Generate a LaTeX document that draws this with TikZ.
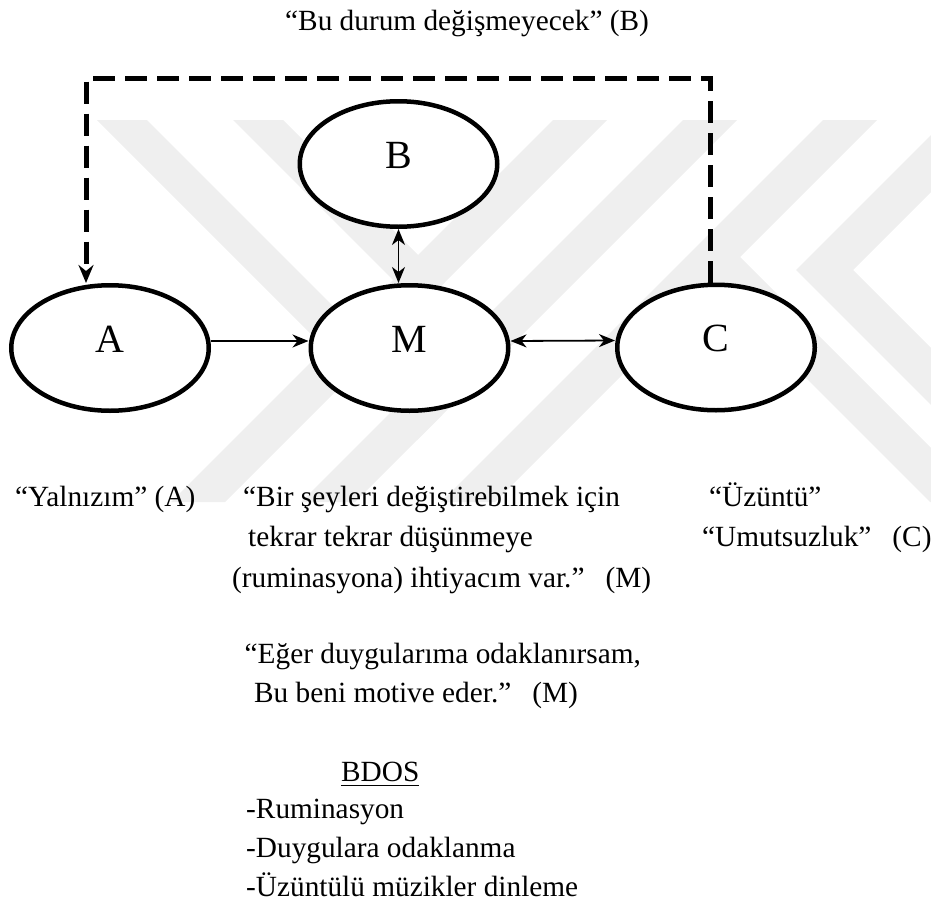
\documentclass[tikz,border=0pt]{standalone}
\usepackage{fontspec}
\setmainfont{Liberation Serif}
\usetikzlibrary{arrows.meta,shapes.geometric}
\definecolor{wmark}{RGB}{239,239,239}
\begin{document}
\begin{tikzpicture}[x=1pt,y=-1pt,
  state/.style={ellipse, draw, line width=4.5pt, fill=white,
    minimum width=197.5pt, minimum height=125.5pt, inner sep=0pt,
    font=\fontsize{40}{40}\selectfont},
  conn/.style={line width=1.8pt, -{Stealth[length=16pt,width=13pt,inset=5pt]}},
  dconn/.style={line width=1.8pt, {Stealth[length=16pt,width=13pt,inset=5pt]}-{Stealth[length=16pt,width=13pt,inset=5pt]}},
  feedback/.style={line width=5pt, dash pattern=on 22pt off 10pt,
    -{Stealth[length=18pt,width=15pt,inset=6pt]}},
  txt/.style={anchor=base west, inner sep=0pt, font=\fontsize{29.3}{35}\selectfont},
  band/.style={fill=wmark, draw=none}]
\useasboundingbox (0,0) rectangle (931,905);

% faint background emblem
\fill[band] (553,120) -- (607,120) -- (225,502) -- (171,502) -- cycle;
\fill[band] (683,120) -- (737,120) -- (355,502) -- (301,502) -- cycle;
\fill[band] (823,120) -- (877,120) -- (495,502) -- (441,502) -- cycle;
\fill[band] (97,120) -- (147,120) -- (442,415) -- (417,440) -- cycle;
\fill[band] (233,120) -- (283,120) -- (445,282) -- (420,307) -- cycle;
\fill[band] (931,135) -- (796,270) -- (931,405) -- (931,348) -- (853,270) -- (931,192) -- cycle;
\fill[band] (685.5,257.5) -- (740,257) -- (931,448) -- (931,502) -- (930,502) -- cycle;

% states
\node[state] (A) at (110,348)   {\raisebox{-4pt}[0pt][0pt]{A}};
\node[state] (M) at (409.5,348) {\raisebox{-4pt}[0pt][0pt]{M}};
\node[state] (C) at (716,347.5) {\raisebox{-4pt}[0pt][0pt]{C}};
\node[state] (B) at (398.5,164) {\raisebox{-4pt}[0pt][0pt]{B}};

% connectors
\draw[conn]  ([yshift=7pt]A.east) -- ([yshift=7pt]M.west);
\draw[dconn] ([yshift=7pt]M.east) -- ([yshift=7pt]C.west);
\draw[dconn] (B.south) -- (B.south |- M.north);

% dashed feedback loop from C back to A
\coordinate (tl) at (86,78);
\coordinate (tr) at (710,78);
\draw[feedback] (tr |- C.north) -- (tr) -- (tl) -- (tl |- A.north);

% texts
\node[txt] (title) at (285,30) {“Bu durum değişmeyecek” (B)};
\node[txt] (ta)  at (15,506)  {“Yalnızım” (A)};
\node[txt] (tm1) at (243,506) {“Bir şeyleri değiştirebilmek için};
\node[txt] (tm2) at (248,546) {tekrar tekrar düşünmeye};
\node[txt] (tm3) at (232,587) {(ruminasyona) ihtiyacım var.”\hspace{21pt}(M)};
\node[txt] (tc1) at (709,506) {“Üzüntü”};
\node[txt] (tc2) at (702,546) {“Umutsuzluk”\hspace{21pt}(C)};
\node[txt] (te1) at (244.5,663) {“Eğer duygularıma odaklanırsam,};
\node[txt] (te2) at (254,702) {Bu beni motive eder.”\hspace{21pt}(M)};
\node[txt] (bd)  at (341,781) {\rlap{\rule[-5.4pt]{78pt}{1.8pt}}BDOS};
\node[txt] (b1)  at (246,818) {-Ruminasyon};
\node[txt] (b2)  at (246,857) {-Duygulara odaklanma};
\node[txt] (b3)  at (246,896) {-Üzüntülü müzikler dinleme};
\end{tikzpicture}
\end{document}
